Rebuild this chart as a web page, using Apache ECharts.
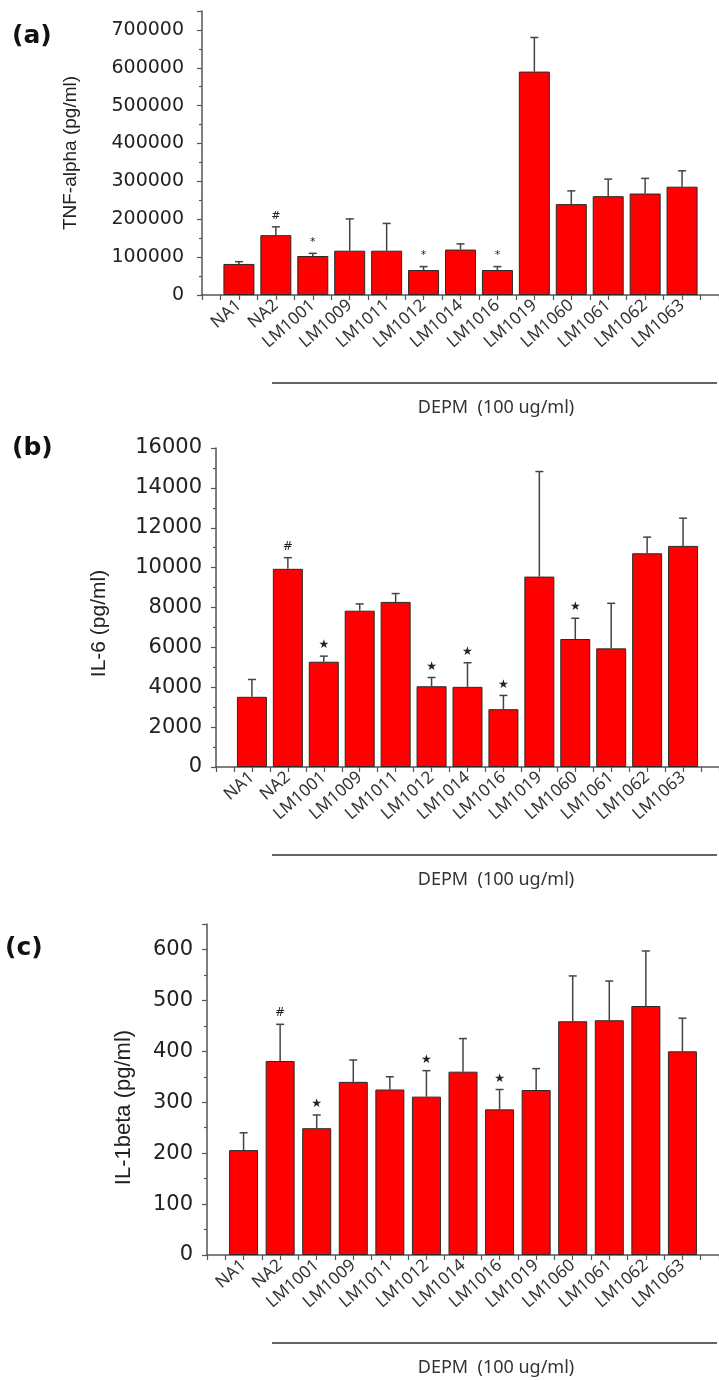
<!DOCTYPE html>
<html>
<head>
<meta charset="utf-8">
<script src="https://cdn.jsdelivr.net/npm/echarts@6/dist/echarts.min.js"></script>
<style>
  html, body { margin: 0; padding: 0; background: #ffffff; }
  #chart { width: 719px; height: 1380px; }
</style>
</head>
<body>
<div id="chart"></div>
<script>
// ---------- data ----------
const categories = ['NA1', 'NA2', 'LM1001', 'LM1009', 'LM1011', 'LM1012', 'LM1014',
  'LM1016', 'LM1019', 'LM1060', 'LM1061', 'LM1062', 'LM1063'];

const tnfMean = [82000, 158000, 103000, 117000, 117000, 66000, 120000, 66000, 590000, 240000, 261000, 268000, 286000];
const tnfErr  = [6000, 22000, 7000, 84000, 72000, 9000, 15000, 9000, 90000, 35000, 45000, 40000, 42000];
const tnfMarks = ['', '#', '*', '', '', '*', '', '*', '', '', '', '', ''];

const il6Mean = [3520, 9940, 5280, 7840, 8280, 4050, 4020, 2900, 9550, 6420, 5950, 10720, 11090];
const il6Err  = [870, 560, 280, 340, 420, 440, 1210, 690, 5270, 1040, 2260, 810, 1390];
const il6Marks = ['', '#', '★', '', '', '★', '★', '★', '', '★', '', '', ''];

const il1Mean = [206, 381, 249, 340, 325, 311, 360, 286, 324, 459, 461, 489, 400];
const il1Err  = [34, 72, 26, 43, 25, 51, 65, 39, 42, 89, 77, 108, 65];
const il1Marks = ['', '#', '★', '', '', '★', '', '★', '', '', '', '', ''];

const tnfTicks = { max: 750000, interval: 100000 };
const il6Ticks = { max: 16000, interval: 2000 };
const il1Ticks = { max: 650, interval: 100 };

const groupLabel = 'DEPM  (100 ug/ml)';

// ---------- layout ----------
const panels = [
  { tag: '(a)', tagTop: 24, name: 'TNF-alpha (pg/ml)', nameSize: 19, nameGap: 122, namePad: [0, 0, 0, 0],
    grid: { left: 202, top: 11, height: 284, right: 0 }, labelSize: 19, labelMargin: 18,
    barWidth: 31, markSize: 11, mean: tnfMean, err: tnfErr, marks: tnfMarks, ticks: tnfTicks },
  { tag: '(b)', tagTop: 436, name: 'IL-6 (pg/ml)', nameSize: 21, nameGap: 106, namePad: [0, 32, 0, 0],
    grid: { left: 216, top: 448, height: 319, right: -5 }, labelSize: 21, labelMargin: 14,
    barWidth: 30, markSize: 12, mean: il6Mean, err: il6Err, marks: il6Marks, ticks: il6Ticks },
  { tag: '(c)', tagTop: 936, name: 'IL-1beta (pg/ml)', nameSize: 22, nameGap: 72, namePad: [0, 36, 0, 0],
    grid: { left: 207, top: 924, height: 331, right: -2 }, labelSize: 21, labelMargin: 14,
    barWidth: 29, markSize: 12, mean: il1Mean, err: il1Err, marks: il1Marks, ticks: il1Ticks }
];

const axisColor = '#555';

function errRenderer(marks, markSize) {
  return function (params, api) {
    const x = api.value(0), m = api.value(1), s = api.value(2);
    const p0 = api.coord([x, m]);
    const p1 = api.coord([x, m + s]);
    const cap = 4;
    const children = [
      { type: 'line', shape: { x1: p0[0], y1: p0[1], x2: p1[0], y2: p1[1] },
        style: { stroke: '#444', lineWidth: 1.5 } },
      { type: 'line', shape: { x1: p1[0] - cap, y1: p1[1], x2: p1[0] + cap, y2: p1[1] },
        style: { stroke: '#444', lineWidth: 1.5 } }
    ];
    const mk = marks[params.dataIndex];
    if (mk) {
      children.push({ type: 'text', style: {
        text: mk, x: p1[0], y: p1[1] - 11, align: 'center', verticalAlign: 'middle',
        fill: '#222', fontSize: markSize, fontFamily: 'DejaVu Sans' } });
    }
    return { type: 'group', children };
  };
}

const grids = [], xAxes = [], yAxes = [], series = [], graphics = [];

panels.forEach((p, i) => {
  grids.push(Object.assign({ containLabel: false }, p.grid));
  xAxes.push({
    type: 'value', gridIndex: i, min: 0, max: 14, interval: 1,
    splitLine: { show: false },
    axisLine: { show: true, onZero: false, lineStyle: { color: axisColor, width: 1.5 } },
    axisTick: { show: true, length: 5, lineStyle: { color: axisColor, width: 1.2 } },
    minorTick: { show: true, splitNumber: 2, length: 5, lineStyle: { color: axisColor, width: 1.2 } },
    axisLabel: {
      rotate: 41, margin: 8, fontSize: 17, fontFamily: 'Noto Sans', color: '#333',
      showMinLabel: false, showMaxLabel: false,
      formatter: v => (Number.isInteger(v) && v >= 1 && v <= categories.length) ? categories[v - 1] : ''
    }
  });
  yAxes.push({
    type: 'value', gridIndex: i, min: 0, max: p.ticks.max, interval: p.ticks.interval,
    name: p.name, nameLocation: 'middle', nameRotate: 90, nameGap: p.nameGap,
    nameTextStyle: { fontSize: p.nameSize, fontFamily: 'Liberation Sans', color: '#222', padding: p.namePad },
    splitLine: { show: false },
    axisLine: { show: true, lineStyle: { color: axisColor, width: 1.5 } },
    axisTick: { show: true, length: 5, lineStyle: { color: axisColor, width: 1.2 } },
    minorTick: { show: true, splitNumber: 2, length: 3, lineStyle: { color: axisColor, width: 1.2 } },
    axisLabel: {
      margin: p.labelMargin, fontSize: p.labelSize, fontFamily: 'DejaVu Sans', color: '#222',
      showMaxLabel: p.ticks.max % p.ticks.interval === 0,
      formatter: v => String(v)
    }
  });
  series.push({
    type: 'bar', xAxisIndex: i, yAxisIndex: i, barWidth: p.barWidth,
    itemStyle: { color: '#ff0000', borderColor: '#2a2a2a', borderWidth: 1 },
    data: p.mean.map((v, k) => [k + 1, v]),
    silent: true
  });
  series.push({
    type: 'custom', xAxisIndex: i, yAxisIndex: i, z: 5,
    renderItem: errRenderer(p.marks, p.markSize),
    data: p.mean.map((v, k) => [k + 1, v, p.err[k]]),
    silent: true
  });
  const axisY = p.grid.top + p.grid.height;
  graphics.push({ type: 'text', left: i === 2 ? 5 : 12, top: p.tagTop,
    style: { text: p.tag, fontSize: 25, fontWeight: 'bold', fontFamily: 'DejaVu Sans', fill: '#111' } });
  graphics.push({ type: 'line', shape: { x1: 272, y1: axisY + 88, x2: 717, y2: axisY + 88 },
    style: { stroke: '#666', lineWidth: 2 } });
  graphics.push({ type: 'text', x: 496, y: axisY + 113,
    style: { text: groupLabel, align: 'center', verticalAlign: 'middle', fontSize: 18,
      fontFamily: 'Noto Sans', fill: '#333' } });
});

const chart = echarts.init(document.getElementById('chart'), null, { renderer: 'canvas' });
chart.setOption({
  animation: false,
  backgroundColor: '#ffffff',
  grid: grids,
  xAxis: xAxes,
  yAxis: yAxes,
  series: series,
  graphic: graphics
});
</script>
</body>
</html>
